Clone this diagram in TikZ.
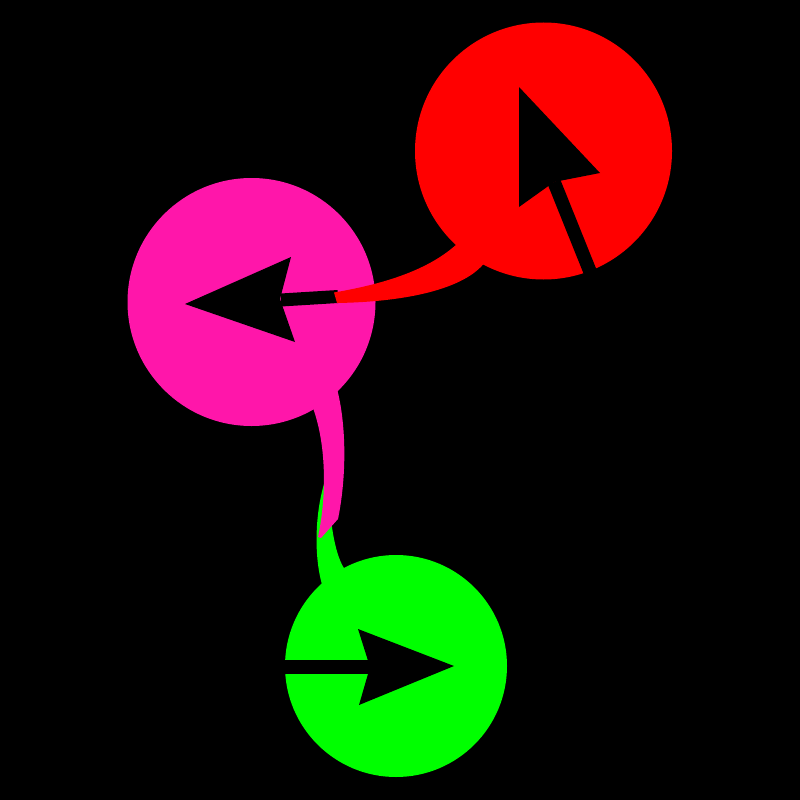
\documentclass[tikz,border=0pt]{standalone}
\usetikzlibrary{calc}
\definecolor{cred}{RGB}{255,0,0}
\definecolor{cmag}{RGB}{255,22,170}
\definecolor{cgreen}{RGB}{0,255,0}
\tikzset{
  ball/.style={circle, inner sep=0pt, outer sep=0pt, draw=none},
  cursor/.style={fill=black, draw=none},
  shaft/.style={draw=black, line cap=butt},
}
\begin{document}
\begin{tikzpicture}[x=1pt,y=-1pt]
\fill[black] (0,0) rectangle (800,800);
\useasboundingbox (0,0) rectangle (800,800);
% invisible placement of the three nodes (to get anchors)
\path (543.5,151) node[ball, minimum size=257pt] (R) {};
\path (251.5,302) node[ball, minimum size=248pt] (M) {};
\path (396,666) node[ball, minimum size=222pt] (G) {};
% green tapered connector (G -> M)
\fill[cgreen] (G.132) .. controls (314,555) and (315,515) .. (324,484)
  -- (328,484) .. controls (330,520) and (334,552) .. (G.118) -- (G.center) -- cycle;
% green node and its arrow
\fill[cgreen] (G.center) circle (111);
\draw[shaft, line width=14pt] (280,667) -- (372,667);
\fill[cursor] (454,666) -- (358,629) -- (370,667) -- (359,705) -- cycle;
% magenta tapered connector (M -> G)
\fill[cmag] (M.300) .. controls (326,445) and (327,495) .. (318,537)
  -- (321,538) -- (338,519) .. controls (346,480) and (347,430) .. (M.314) -- (M.center) -- cycle;
% magenta node and its arrow
\fill[cmag] (M.center) circle (124);
\draw[shaft, line width=13pt] (281,300) -- (338,296.5);
\fill[cursor] (185,304) -- (291,257) -- (280,299) -- (295,342) -- cycle;
% red tapered connector (R -> M)
\fill[cred] (R.227) .. controls (430,268) and (390,283) .. (334,292.5)
  -- (337,303) .. controls (400,302) and (460,291) .. (R.242) -- (R.center) -- cycle;
% red node and its arrow
\fill[cred] (R.center) circle (128.5);
\draw[shaft, line width=13.5pt] (591,274) -- (554,182);
\fill[cursor] (519,87) -- (600,173) -- (554,182) -- (519,207) -- cycle;
\end{tikzpicture}
\end{document}
